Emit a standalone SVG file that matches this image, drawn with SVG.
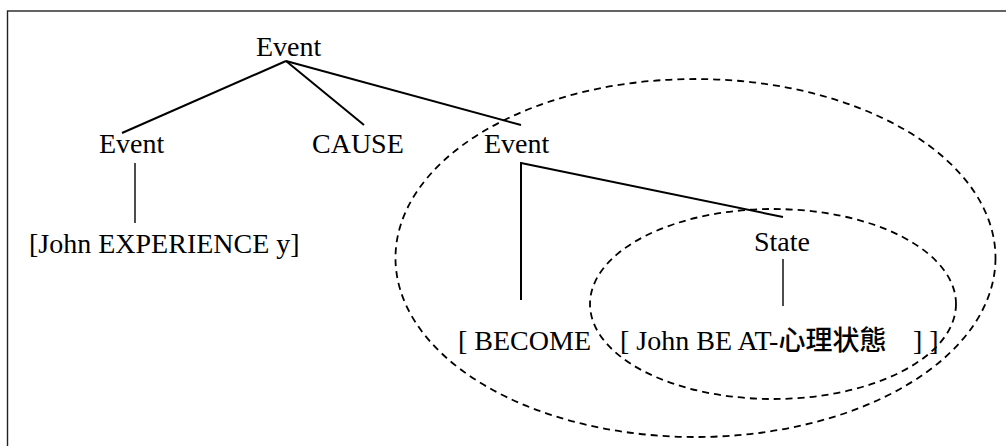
<svg xmlns="http://www.w3.org/2000/svg" width="1006" height="446" viewBox="0 0 1006 446">
<style>
text{font-family:'Liberation Serif','Times New Roman',Times,serif;font-size:28px;fill:#000}
.cjk{font-family:'Noto Sans CJK SC','Noto Sans CJK JP',sans-serif;font-size:27px;font-weight:500}
.e{stroke:#000;stroke-width:2;fill:none}
.th{stroke:#000;stroke-width:1.4;fill:none}
.d{stroke:#000;stroke-width:1.8;fill:none;stroke-dasharray:7 5}
</style>
<rect width="1006" height="446" fill="#fff"/>
<rect x="7.5" y="11" width="1010" height="450" fill="none" stroke="#222" stroke-width="1.4"/>
<g id="connectors">
<line class="e" x1="286" y1="61" x2="122" y2="133"/>
<line class="e" x1="286" y1="61" x2="364" y2="125"/>
<line class="e" x1="286" y1="61" x2="521" y2="125"/>
<line class="th" x1="135" y1="163" x2="135" y2="223"/>
<line class="e" x1="521" y1="162" x2="521" y2="300"/>
<line class="e" x1="521" y1="163" x2="783" y2="217"/>
<line class="th" x1="783" y1="259" x2="783" y2="306"/>
</g>
<g id="groupings">
<ellipse class="d" cx="695.5" cy="258" rx="300" ry="179"/>
<ellipse class="d" cx="773" cy="304" rx="183" ry="95"/>
</g>
<g font-family="Liberation Serif, serif">
<g id="root-event"><text x="256" y="56">Event</text></g>
<g id="left-event"><text x="99" y="153">Event</text></g>
<g id="cause"><text x="312" y="153">CAUSE</text></g>
<g id="right-event"><text x="484" y="153">Event</text></g>
<g id="experience"><text x="29" y="253">[John EXPERIENCE y]</text></g>
<g id="state"><text x="754" y="251">State</text></g>
<g id="become"><text x="458" y="350">[ BECOME</text></g>
<g id="be-at"><text x="620" y="350">[ John BE AT-<tspan class="cjk">心理状態</tspan><tspan x="913">] ]</tspan></text></g>
</g>
</svg>
